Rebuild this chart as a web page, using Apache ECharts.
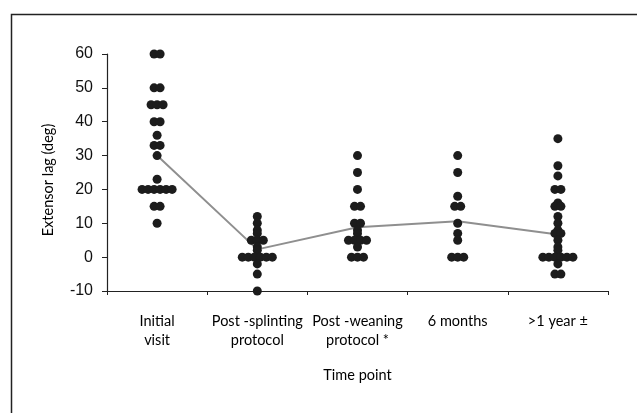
<!DOCTYPE html>
<html>
<head>
<meta charset="utf-8">
<script src="https://cdn.jsdelivr.net/npm/echarts@6/dist/echarts.min.js"></script>
<style>
  html, body { margin: 0; padding: 0; background: #fff; }
  #chart { width: 637px; height: 413px; }
</style>
</head>
<body>
<div id="chart"></div>
<script>
// time points
const categories = ['Initial\nvisit', 'Post -splinting\nprotocol', 'Post -weaning\nprotocol *', '6 months', '>1 year \u00b1']

// extensor lag per patient (deg), one list per time point
const initialVisit = [60, 60, 50, 50, 45, 45, 45, 40, 40, 36, 33, 33, 30, 23, 20, 20, 20, 20, 20, 20, 15, 15, 10]
const postSplinting = [12, 10, 8, 7, 5, 5, 5, 3, 2, 0, 0, 0, 0, 0, 0, -2, -5, -10]
const postWeaning = [30, 25, 20, 15, 15, 10, 10, 8, 7, 5, 5, 5, 5, 3, 0, 0, 0]
const sixMonths = [30, 25, 18, 15, 15, 10, 7, 5, 0, 0, 0]
const overOneYear = [35, 27, 24, 20, 20, 16, 15, 15, 12, 10, 8, 7, 7, 5, 3, 2, 0, 0, 0, 0, 0, 0, -2, -5, -5]

// mean line
const means = [30, 2.3, 8.8, 10.6, 6.7]

const groups = [initialVisit, postSplinting, postWeaning, sixMonths, overOneYear]

// spread equal values side by side around the category centre
const STEP = 0.06
const points = []
groups.forEach((vals, ci) => {
  const counts = {}
  vals.forEach(v => { counts[v] = (counts[v] || 0) + 1 })
  const seen = {}
  vals.forEach(v => {
    const n = counts[v]
    const k = seen[v] || 0
    seen[v] = k + 1
    points.push([ci + (k - (n - 1) / 2) * STEP, v])
  })
})

const chart = echarts.init(document.getElementById('chart'))
chart.setOption({
  animation: false,
  grid: { left: 107, right: 29, top: 54, bottom: 122 },
  graphic: [{
    type: 'rect',
    left: 9, top: 12,
    shape: { width: 700, height: 500 },
    style: { fill: 'none', stroke: '#222', lineWidth: 1.5 },
    silent: true
  }],
  xAxis: [{
    type: 'category',
    data: categories,
    boundaryGap: true,
    axisLine: { onZero: false, lineStyle: { color: '#222', width: 1.2 } },
    axisTick: { show: true, length: 4, lineStyle: { color: '#222' } },
    axisLabel: {
      interval: 0, margin: 21, color: '#000',
      fontFamily: 'Lato', fontSize: 14.5, lineHeight: 19
    },
    name: 'Time point',
    nameLocation: 'middle',
    nameGap: 77,
    nameTextStyle: { fontFamily: 'Lato', fontSize: 14.5, color: '#000' }
  }, {
    type: 'value',
    min: -0.5, max: 4.5,
    show: false
  }],
  yAxis: {
    type: 'value',
    min: -10, max: 60, interval: 10,
    splitLine: { show: false },
    axisLine: { show: true, onZero: false, lineStyle: { color: '#222', width: 1.2 } },
    axisTick: { show: true, length: 5, lineStyle: { color: '#222' } },
    axisLabel: { margin: 14, color: '#111', fontFamily: 'Liberation Sans', fontSize: 16 },
    name: 'Extensor lag (deg)',
    nameLocation: 'middle',
    nameGap: 51,
    nameTextStyle: { fontFamily: 'Lato', fontSize: 14.5, color: '#000', padding: [0, 15, 0, 0] }
  },
  series: [{
    type: 'line',
    xAxisIndex: 0,
    data: means,
    symbol: 'none',
    lineStyle: { color: '#8f8f8f', width: 2 },
    z: 2
  }, {
    type: 'scatter',
    xAxisIndex: 1,
    data: points,
    symbolSize: 9,
    itemStyle: { color: '#1c1c1c', opacity: 1 },
    z: 3
  }]
})
</script>
</body>
</html>
